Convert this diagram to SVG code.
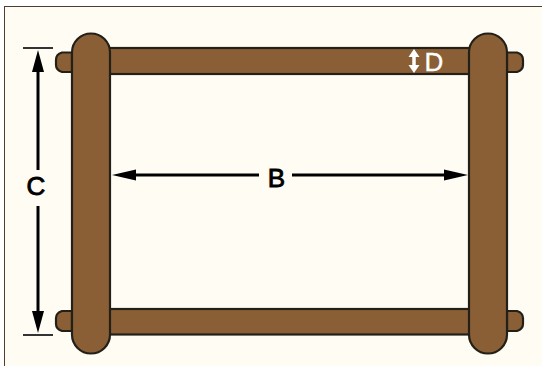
<svg xmlns="http://www.w3.org/2000/svg" width="542" height="366" viewBox="0 0 542 366">
<style>
.wood{fill:#8b5f36;stroke:#222018;stroke-width:2.2}
.dim{fill:none;stroke:#000;stroke-width:3}
.tick{fill:none;stroke:#333;stroke-width:2}
.head{fill:#000}
.whead{fill:#fff}
text{font-family:"Liberation Sans",Arial,sans-serif;font-size:26px;text-anchor:middle;stroke-width:.9}
.k{fill:#000;stroke:#000}
.w{fill:#fff;stroke:#fff;stroke-width:.4}
</style>
<rect x="0" y="0" width="542" height="366" fill="#ffffff"/>
<rect x="4.500" y="6.500" width="540" height="362" fill="#fffcf4" stroke="#4e3d30" stroke-width="1"/>
<g id="rail-top"><rect class="wood" x="90" y="48" width="400" height="26"/></g>
<g id="rail-bottom"><rect class="wood" x="90" y="309" width="400" height="25.500"/></g>
<g id="pegs">
<path class="wood" d="M72 52.500H62Q56 54 56 60V65Q56 70 62 72H72Z"/>
<path class="wood" d="M72 311H62Q56 313 56 318V324Q56 329 62 331H72Z"/>
<path class="wood" d="M507 52.500H517Q523 54 523 60V65Q523 70 517 72H507Z"/>
<path class="wood" d="M507 311H517Q523 313 523 318V324Q523 329 517 331H507Z"/>
</g>
<g id="bar-left"><rect class="wood" x="72" y="33.500" width="38" height="320" rx="19" ry="19"/></g>
<g id="bar-right"><rect class="wood" x="469" y="33.500" width="38" height="320" rx="19" ry="19"/></g>
<g id="connectors">
<path class="tick" d="M23 48H53M23 335H53"/>
<path class="dim" d="M38 66V170M38 206V320"/>
<path class="head" d="M38 50L44 72H32Z"/>
<path class="head" d="M38 333L32 311H44Z"/>
<path class="dim" d="M128 175H259M292 175H455"/>
<path class="head" d="M112 175L136 169.500V180.500Z"/>
<path class="head" d="M468 175L444 169.500V180.500Z"/>
<path d="M414 54V68" fill="none" stroke="#fff" stroke-width="3.500"/>
<path class="whead" d="M414 49L419.500 57H408.500Z"/>
<path class="whead" d="M414 73L408.500 65H419.500Z"/>
</g>
<g id="label-b"><text class="k" x="276.500" y="187">B</text></g>
<g id="label-c"><text class="k" x="36" y="195">C</text></g>
<g id="label-d"><text class="w" x="434" y="71">D</text></g>
</svg>
